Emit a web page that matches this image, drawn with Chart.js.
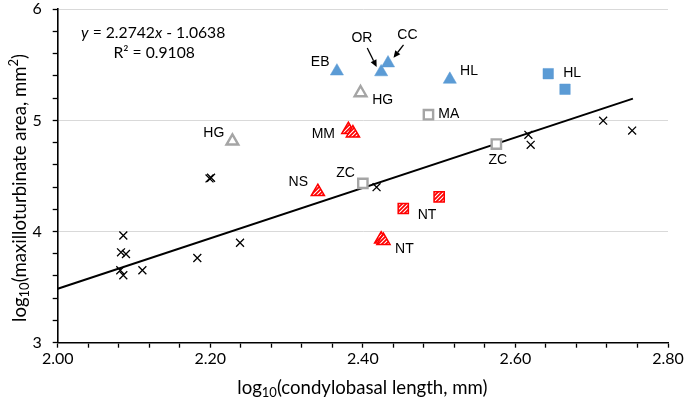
<!DOCTYPE html>
<html><head><meta charset="utf-8">
<script src="https://cdn.jsdelivr.net/npm/chart.js@4"></script>
<style>html,body{margin:0;padding:0;background:#fff}canvas{display:block}</style>
</head><body>
<canvas id="c" width="685" height="404"></canvas>
<script>
// ---------------- data ----------------
const otherX = [2.086, 2.083, 2.0895, 2.082, 2.086, 2.111, 2.183, 2.239, 2.199, 2.201, 2.418, 2.617, 2.620, 2.715, 2.753];
const otherY = [3.964, 3.813, 3.798, 3.652, 3.607, 3.652, 3.762, 3.899, 4.478, 4.484, 4.399, 4.870, 4.780, 4.997, 4.908];
const blueTriX = [2.366, 2.424, 2.433, 2.514];
const blueTriY = [5.442, 5.435, 5.515, 5.368];
const blueSqX = [2.643, 2.665];
const blueSqY = [5.420, 5.280];
const grayTriX = [2.397, 2.229];
const grayTriY = [5.248, 4.813];
const graySqX = [2.486, 2.575, 2.400];
const graySqY = [5.051, 4.787, 4.433];
const redTriX = [2.381, 2.387, 2.341, 2.424, 2.427];
const redTriY = [4.915, 4.885, 4.358, 3.930, 3.918];
const redSqX = [2.453, 2.500];
const redSqY = [4.207, 4.311];
const trendX = [2.000, 2.754];
const trendY = [3.485, 5.196];
const xTickValues = [2.0, 2.2, 2.4, 2.6, 2.8];
const xTickLabels = ['2.00', '2.20', '2.40', '2.60', '2.80'];
const yTickValues = [3, 4, 5, 6];
const yTickLabels = ['3', '4', '5', '6'];
const equationText = ['y', ' = 2.2742', 'x', ' - 1.0638'];
const r2Text = 'R² = 0.9108';

// point labels (text attached to a point; offsets are drawing style)
const pointLabels = [
  {ds: 1, i: 0, text: 'EB', dx: -16.7, dy: -9.5},
  {ds: 1, i: 1, text: 'OR', dx: -19.2, dy: -33.8},
  {ds: 1, i: 2, text: 'CC', dx: 19.4, dy: -27.7},
  {ds: 1, i: 3, text: 'HL', dx: 19.2, dy: -8.3},
  {ds: 2, i: 0, text: 'HL', dx: 23.9, dy: -0.7},
  {ds: 3, i: 0, text: 'HG', dx: 22.2, dy: 7.8},
  {ds: 3, i: 1, text: 'HG', dx: -18.6, dy: -7.9},
  {ds: 4, i: 0, text: 'MA', dx: 20.4, dy: -1},
  {ds: 4, i: 1, text: 'ZC', dx: 1.5, dy: 16.2},
  {ds: 4, i: 2, text: 'ZC', dx: -17.2, dy: -10.2},
  {ds: 5, i: 0, text: 'MM', dx: -25, dy: 4.1},
  {ds: 5, i: 2, text: 'NS', dx: -19.5, dy: -9.3},
  {ds: 5, i: 3, text: 'NT', dx: 23.2, dy: 9.7},
  {ds: 6, i: 0, text: 'NT', dx: 23.8, dy: 6.5}
];
const arrows = [
  {ds: 1, i: 1, from: [-13.9, -24], to: [-4.5, -5]},
  {ds: 1, i: 2, from: [15.5, -18.3], to: [5.5, -5.3]}
];

// ---------------- helpers ----------------
const toPts = (xs, ys) => xs.map((x, i) => ({x: x, y: ys[i]}));
function majorLabel(v, vals, labels) {
  for (let k = 0; k < vals.length; k++) if (Math.abs(v - vals[k]) < 1e-6) return labels[k];
  return '';
}
const canvas = document.getElementById('c');
const ctx0 = canvas.getContext('2d');
const hatch = (() => {
  const c = document.createElement('canvas'); c.width = 4; c.height = 4;
  const g = c.getContext('2d');
  g.fillStyle = '#ff0000'; g.fillRect(0, 0, 4, 4);
  g.strokeStyle = '#ffffff'; g.lineWidth = 1.1;
  g.beginPath();
  g.moveTo(0, 4); g.lineTo(4, 0);
  g.moveTo(-1, 1); g.lineTo(1, -1);
  g.moveTo(3, 5); g.lineTo(5, 3);
  g.stroke();
  return ctx0.createPattern(c, 'repeat');
})();

const BLUE = '#5b9bd5', GRAY = '#a5a5a5', RED = '#ff0000';
const TICKFONT = 'Lato';

function drawRich(ctx, parts, x, y, size, family) {
  const fontFor = p => (p.italic ? 'italic ' : '') + ((p.sub || p.sup) ? Math.round(size * 0.68) : size) + 'px ' + family;
  let w = 0;
  parts.forEach(p => { ctx.font = fontFor(p); w += ctx.measureText(p.t).width; });
  let cx = x - w / 2;
  parts.forEach(p => {
    ctx.font = fontFor(p);
    const oy = p.sub ? size * 0.28 : (p.sup ? -size * 0.35 : 0);
    ctx.fillText(p.t, cx, y + oy);
    cx += ctx.measureText(p.t).width;
  });
}

const annotations = {
  id: 'annotations',
  afterDatasetsDraw(chart) {
    const ctx = chart.ctx;
    const ca = chart.chartArea;
    ctx.save();
    ctx.fillStyle = '#000';
    ctx.textBaseline = 'middle';
    pointLabels.forEach(l => {
      const el = chart.getDatasetMeta(l.ds).data[l.i];
      ctx.font = '14px "Liberation Sans", Arial, sans-serif';
      ctx.textAlign = 'center';
      ctx.fillText(l.text, el.x + l.dx, el.y + l.dy);
    });
    ctx.strokeStyle = '#000'; ctx.lineWidth = 1.3;
    arrows.forEach(a => {
      const el = chart.getDatasetMeta(a.ds).data[a.i];
      const x1 = el.x + a.from[0], y1 = el.y + a.from[1];
      const x2 = el.x + a.to[0], y2 = el.y + a.to[1];
      const ang = Math.atan2(y2 - y1, x2 - x1);
      const hl = 7, hw = 3.2;
      const bx = x2 - Math.cos(ang) * hl, by = y2 - Math.sin(ang) * hl;
      ctx.beginPath(); ctx.moveTo(x1, y1); ctx.lineTo(bx, by); ctx.stroke();
      ctx.beginPath();
      ctx.moveTo(x2, y2);
      ctx.lineTo(bx + Math.sin(ang) * hw, by - Math.cos(ang) * hw);
      ctx.lineTo(bx - Math.sin(ang) * hw, by + Math.cos(ang) * hw);
      ctx.closePath(); ctx.fill();
    });
    ctx.textAlign = 'left';
    drawRich(ctx, [
      {t: equationText[0], italic: true}, {t: equationText[1]},
      {t: equationText[2], italic: true}, {t: equationText[3]}
    ], ca.left + 95.5, ca.top + 23.5, 15.7, TICKFONT);
    drawRich(ctx, [{t: r2Text}], ca.left + 96.5, ca.top + 43.5, 15.7, TICKFONT);
    drawRich(ctx, [{t: 'log'}, {t: '10', sub: true}, {t: '(condylobasal length, mm)'}],
      (ca.left + ca.right) / 2 - 0.5, 388, 18.6, TICKFONT);
    ctx.save();
    ctx.translate(20, 188);
    ctx.rotate(-Math.PI / 2);
    drawRich(ctx, [{t: 'log'}, {t: '10', sub: true}, {t: '(maxilloturbinate area, mm'}, {t: '2', sup: true}, {t: ')'}],
      0, 0, 18.6, TICKFONT);
    ctx.restore();
    ctx.restore();
  }
};

const isInt = v => Math.abs(v - Math.round(v)) < 1e-6;

new Chart(canvas, {
  type: 'scatter',
  data: {
    datasets: [
      {label: 'other', data: toPts(otherX, otherY), pointStyle: 'crossRot', pointRadius: 5.6,
        borderColor: '#000', backgroundColor: '#000', borderWidth: 1.3},
      {label: 'blueTri', data: toPts(blueTriX, blueTriY), pointStyle: 'triangle', pointRadius: 7.6,
        backgroundColor: BLUE, borderColor: BLUE, borderWidth: 0.5},
      {label: 'blueSq', data: toPts(blueSqX, blueSqY), pointStyle: 'rect', pointRadius: 7.4,
        backgroundColor: BLUE, borderColor: BLUE, borderWidth: 0.5},
      {label: 'grayTri', data: toPts(grayTriX, grayTriY), pointStyle: 'triangle', pointRadius: 6.8,
        backgroundColor: '#ffffff', borderColor: GRAY, borderWidth: 2.4},
      {label: 'graySq', data: toPts(graySqX, graySqY), pointStyle: 'rect', pointRadius: 6.6,
        backgroundColor: '#ffffff', borderColor: GRAY, borderWidth: 2.4},
      {label: 'redTri', data: toPts(redTriX, redTriY), pointStyle: 'triangle', pointRadius: 7.6,
        backgroundColor: hatch, borderColor: RED, borderWidth: 1.5},
      {label: 'redSq', data: toPts(redSqX, redSqY), pointStyle: 'rect', pointRadius: 7.2,
        backgroundColor: hatch, borderColor: RED, borderWidth: 1.5},
      {label: 'trend', type: 'line', data: toPts(trendX, trendY), showLine: true, pointRadius: 0,
        borderColor: '#000', borderWidth: 2, fill: false}
    ]
  },
  options: {
    responsive: false,
    animation: false,
    events: [],
    layout: {padding: {left: 0, right: 17, top: 6.7, bottom: 0}},
    plugins: {legend: {display: false}, tooltip: {enabled: false}},
    scales: {
      x: {
        type: 'linear', min: 2, max: 2.8,
        ticks: {stepSize: 0.04, autoSkip: false, maxRotation: 0, padding: 2, color: '#000',
          font: {family: TICKFONT, size: 16},
          callback: v => majorLabel(v, xTickValues, xTickLabels)},
        grid: {drawOnChartArea: false, drawTicks: true, tickLength: 5, tickColor: '#000', tickWidth: 1.3},
        border: {color: '#000', width: 1.6},
        afterFit: s => { s.height = 61.3; s.paddingLeft = 0; s.paddingRight = 0; }
      },
      y: {
        type: 'linear', min: 3, max: 6,
        ticks: {stepSize: 0.2, autoSkip: false, padding: 11, color: '#000',
          font: {family: TICKFONT, size: 16},
          callback: v => majorLabel(v, yTickValues, yTickLabels)},
        grid: {
          color: c => (c.tick && isInt(c.tick.value) && c.tick.value > 3.5) ? '#d9d9d9' : 'rgba(0,0,0,0)',
          lineWidth: 1, drawTicks: true, tickLength: 5, tickColor: '#000', tickWidth: 1.3
        },
        border: {color: '#000', width: 1.6},
        afterFit: s => { s.width = 57.7; s.paddingTop = 0; s.paddingBottom = 0; }
      }
    }
  },
  plugins: [annotations]
});
</script>
</body></html>
